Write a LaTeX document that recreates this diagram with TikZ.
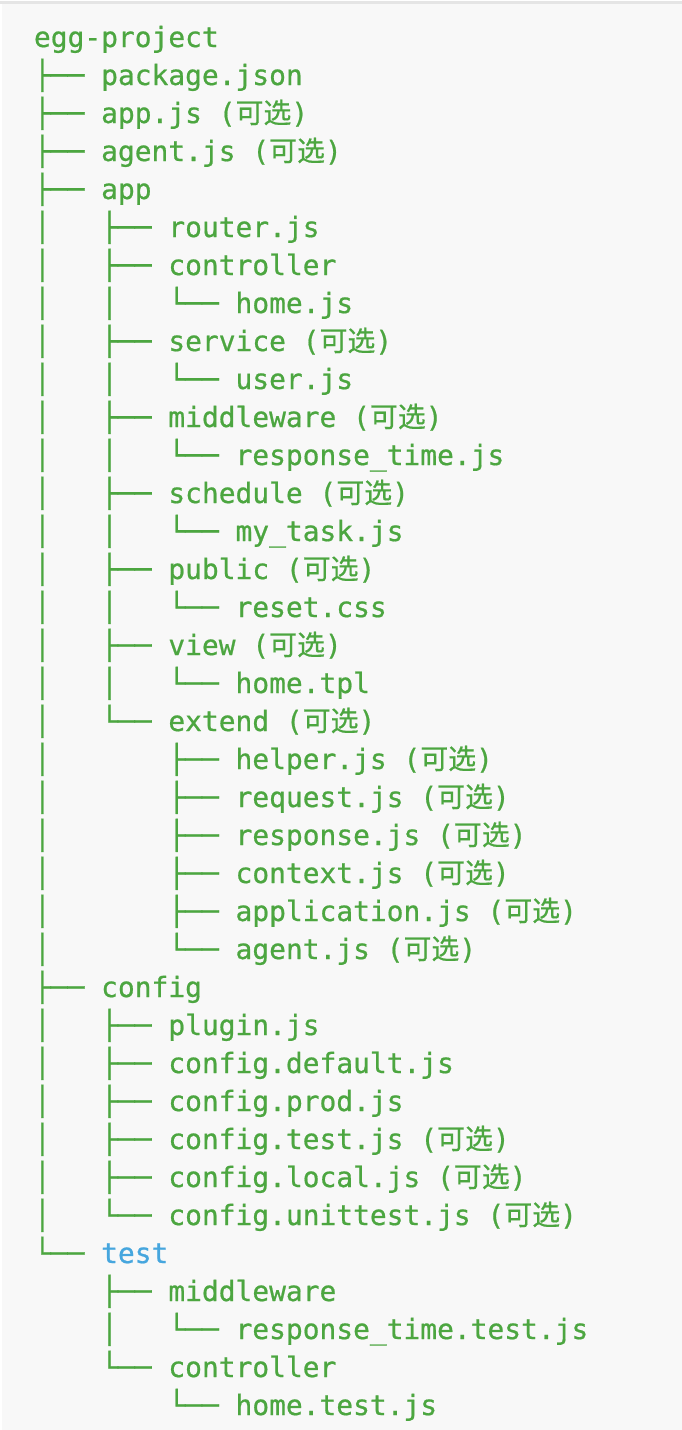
\documentclass[tikz,border=0pt]{standalone}
\usepackage{fontspec}
\newfontfamily\monofnt[FakeBold=0.7]{DejaVu Sans Mono}
\newfontfamily\cjkfnt[FakeBold=0.5]{Noto Sans CJK SC}
\definecolor{treegreen}{RGB}{76,166,64}
\definecolor{treeblue}{RGB}{70,166,222}
\definecolor{codebg}{RGB}{248,248,248}
\definecolor{topband}{RGB}{229,229,229}
\newcommand\optx{\ ({\cjkfnt 可选})}
\begin{document}
\begin{tikzpicture}[x=1pt,y=-1pt,
  ln/.style={anchor=base west,inner sep=0pt,outer sep=0pt,text=treegreen,
    font=\monofnt\fontsize{27.9pt}{38pt}\selectfont}]
\useasboundingbox (0,0) rectangle (682,1430);
\fill[codebg] (0,0) rectangle (682,1430);
\fill[white] (0,0) rectangle (682,1);
\fill[topband] (0,1) rectangle (682,4);
\fill[white] (0,4) rectangle (1.5,1430);
\def\X{34}
\node[ln] (l1)  at (\X,47)  {egg-project};
\node[ln] (l2)  at (\X,85)  {├──\ package.json};
\node[ln] (l3)  at (\X,123) {├──\ app.js\optx};
\node[ln] (l4)  at (\X,161) {├──\ agent.js\optx};
\node[ln] (l5)  at (\X,199) {├──\ app};
\node[ln] (l6)  at (\X,237) {│\ \ \ ├──\ router.js};
\node[ln] (l7)  at (\X,275) {│\ \ \ ├──\ controller};
\node[ln] (l8)  at (\X,313) {│\ \ \ │\ \ \ └──\ home.js};
\node[ln] (l9)  at (\X,351) {│\ \ \ ├──\ service\optx};
\node[ln] (l10) at (\X,389) {│\ \ \ │\ \ \ └──\ user.js};
\node[ln] (l11) at (\X,427) {│\ \ \ ├──\ middleware\optx};
\node[ln] (l12) at (\X,465) {│\ \ \ │\ \ \ └──\ response\_time.js};
\node[ln] (l13) at (\X,503) {│\ \ \ ├──\ schedule\optx};
\node[ln] (l14) at (\X,541) {│\ \ \ │\ \ \ └──\ my\_task.js};
\node[ln] (l15) at (\X,579) {│\ \ \ ├──\ public\optx};
\node[ln] (l16) at (\X,617) {│\ \ \ │\ \ \ └──\ reset.css};
\node[ln] (l17) at (\X,655) {│\ \ \ ├──\ view\optx};
\node[ln] (l18) at (\X,693) {│\ \ \ │\ \ \ └──\ home.tpl};
\node[ln] (l19) at (\X,731) {│\ \ \ └──\ extend\optx};
\node[ln] (l20) at (\X,769) {│\ \ \ \ \ \ \ ├──\ helper.js\optx};
\node[ln] (l21) at (\X,807) {│\ \ \ \ \ \ \ ├──\ request.js\optx};
\node[ln] (l22) at (\X,845) {│\ \ \ \ \ \ \ ├──\ response.js\optx};
\node[ln] (l23) at (\X,883) {│\ \ \ \ \ \ \ ├──\ context.js\optx};
\node[ln] (l24) at (\X,921) {│\ \ \ \ \ \ \ ├──\ application.js\optx};
\node[ln] (l25) at (\X,959) {│\ \ \ \ \ \ \ └──\ agent.js\optx};
\node[ln] (l26) at (\X,997) {├──\ config};
\node[ln] (l27) at (\X,1035) {│\ \ \ ├──\ plugin.js};
\node[ln] (l28) at (\X,1073) {│\ \ \ ├──\ config.default.js};
\node[ln] (l29) at (\X,1111) {│\ \ \ ├──\ config.prod.js};
\node[ln] (l30) at (\X,1149) {│\ \ \ ├──\ config.test.js\optx};
\node[ln] (l31) at (\X,1187) {│\ \ \ ├──\ config.local.js\optx};
\node[ln] (l32) at (\X,1225) {│\ \ \ └──\ config.unittest.js\optx};
\node[ln] (l33) at (\X,1263) {└──\ \textcolor{treeblue}{test}};
\node[ln] (l34) at (\X,1301) {\ \ \ \ ├──\ middleware};
\node[ln] (l35) at (\X,1339) {\ \ \ \ │\ \ \ └──\ response\_time.test.js};
\node[ln] (l36) at (\X,1377) {\ \ \ \ └──\ controller};
\node[ln] (l37) at (\X,1415) {\ \ \ \ \ \ \ \ └──\ home.test.js};
\end{tikzpicture}
\end{document}
